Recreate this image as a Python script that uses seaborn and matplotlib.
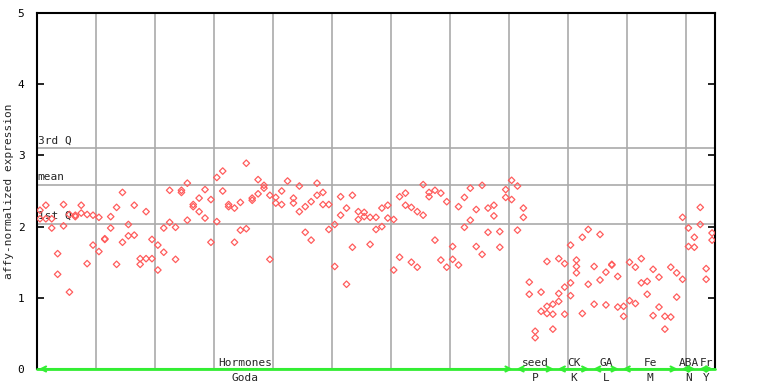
import numpy as np
import pandas as pd
import matplotlib
matplotlib.use("Agg")
import matplotlib.pyplot as plt
import seaborn as sns

# expression per sample (two replicates, a few with a third)
expr_1 = [2.23, 2.30, 1.98, 1.62, 2.31, 2.17, 2.16, 2.30, 2.17, 2.16,
          2.13, 1.82, 2.14, 2.27, 2.48, 2.03, 2.30, 1.55, 2.21, 1.82,
          1.74, 1.98, 2.51, 1.99, 2.51, 2.61, 2.31, 2.40, 2.52, 2.38,
          2.69, 2.78, 2.31, 2.26, 2.34, 2.89, 2.40, 2.66, 2.58, 2.44,
          2.41, 2.50, 2.64, 2.40, 2.57, 2.28, 2.35, 2.61, 2.48, 2.31,
          2.03, 2.42, 2.26, 2.44, 2.21, 2.20, 2.13, 2.13, 2.26, 2.30,
          2.10, 2.42, 2.47, 2.27, 2.21, 2.59, 2.48, 2.51, 2.47, 2.35,
          1.72, 2.28, 2.41, 2.54, 2.24, 2.58, 2.26, 2.30, 1.93, 2.52,
          2.65, 2.57, 2.26, 1.22, 0.53, 1.08, 1.51, 0.91, 1.55, 1.48,
          1.74, 1.53, 1.85, 1.96, 1.44, 1.89, 1.36, 1.46, 1.30, 0.88,
          1.50, 1.43, 1.55, 1.23, 1.40, 1.29, 0.74, 1.43, 1.35, 2.13,
          1.98, 1.85, 2.27, 1.41, 1.91]
expr_2 = [2.11, 2.11, 2.11, 1.33, 2.01, 1.08, 2.14, 2.19, 1.48, 1.74,
          1.65, 1.83, 1.98, 1.47, 1.78, 1.87, 1.88, 1.47, 1.55, 1.55,
          1.39, 1.64, 2.06, 1.54, 2.48, 2.09, 2.28, 2.21, 2.12, 1.78,
          2.07, 2.50, 2.28, 1.78, 1.95, 1.97, 2.37, 2.46, 2.54, 1.54,
          2.33, 2.31, np.nan, 2.33, 2.21, 1.92, 1.81, 2.44, 2.31, 1.96,
          1.44, 2.16, 1.19, 1.71, 2.10, 2.14, 1.75, 1.96, 2.00, 2.12,
          1.39, 1.57, 2.30, 1.50, 1.43, 2.16, 2.42, 1.81, 1.53, 1.43,
          1.54, 1.46, 1.99, 2.09, 1.72, 1.61, 1.92, 2.15, 1.71, 2.41,
          2.38, 1.95, 2.13, 1.05, 0.44, 0.81, 0.88, 0.77, 1.06, 1.15,
          1.21, 1.44, 0.78, 1.19, 0.91, 1.25, 0.90, 1.47, 0.87, 0.74,
          0.96, 0.92, 1.21, 1.05, 0.75, 0.87, 0.56, 0.73, 1.01, 1.26,
          1.72, 1.71, 2.03, 1.26, 1.81]
extra_samples = [86, 87, 88, 89, 90, 91]
extra_expr = [0.78, 0.56, 0.95, 0.77, 1.03, 1.35]

# summary lines
q3_value = 3.10
mean_value = 2.58
q1_value = 2.04

# experiment groups: top label, bottom label, first sample, last sample
group_top = ["Hormones", "seed", "CK", "GA", "Fe", "ABA", "Fr"]
group_bottom = ["Goda", "P", "K", "L", "M", "N", "Y"]
group_start = [0, 81, 88, 94, 99, 109, 112]
group_end = [81, 88, 94, 99, 109, 112, 115]

n = len(expr_1)
idx = np.arange(n)
df = pd.concat([
    pd.DataFrame({"sample": idx + 0.5, "expr": expr_1}),
    pd.DataFrame({"sample": idx + 0.5, "expr": expr_2}),
    pd.DataFrame({"sample": np.array(extra_samples) + 0.5, "expr": extra_expr}),
]).dropna()

sns.set_style("white")
plt.rcParams['font.family'] = ['DejaVu Sans Mono']

fig = plt.figure(figsize=(7.68, 3.84), dpi=100)
ax = fig.add_axes([37 / 768, 15 / 384, 678 / 768, 356 / 384])

grid_c = "#aaaaaa"
for gx in range(10, n, 10):
    ax.axvline(gx, color=grid_c, lw=1.2, zorder=1)
for val, lab in [(q3_value, "3rd Q"), (mean_value, "mean"), (q1_value, "1st Q")]:
    ax.axhline(val, color=grid_c, lw=1.2, zorder=1)
    ax.text(0.1, val + 0.04, lab, fontsize=8, ha="left", va="bottom", zorder=2)

sns.scatterplot(data=df, x="sample", y="expr", marker="D", s=11,
                facecolors="none", edgecolor="#ff5c5c", linewidth=0.9,
                ax=ax, zorder=3, legend=False)

ax.set_xlim(0, n)
ax.set_ylim(0, 5)
ax.set_xticks([])
ax.set_yticks([0, 1, 2, 3, 4, 5])
ax.tick_params(axis="y", direction="in", length=5, width=1.2, labelsize=8,
               pad=9, right=True, left=True, colors="black")
ax.set_xlabel("")
ax.set_ylabel("affy-normalized expression", fontsize=8, labelpad=3)
for side in ["left", "right", "top"]:
    ax.spines[side].set_color("black")
    ax.spines[side].set_linewidth(1.5)
ax.spines["bottom"].set_visible(False)

# group arrows and labels along the baseline
green = "#33ee33"
ax.plot([0, n], [0, 0], color=green, lw=2, clip_on=False, zorder=4)
for top, bot, s, e in zip(group_top, group_bottom, group_start, group_end):
    ax.annotate("", xy=(s + 0.3, 0), xytext=(e - 0.3, 0),
                arrowprops=dict(arrowstyle="<->", color=green, lw=1.5,
                                mutation_scale=9, shrinkA=0, shrinkB=0),
                annotation_clip=False, zorder=5)
    cx = 35.3 if top == "Hormones" else (s + e) / 2
    ax.text(cx, 0.02, top, fontsize=8, ha="center", va="bottom")
    ax.text(cx, -0.06, bot, fontsize=8, ha="center", va="top")

fig.savefig("out.png", dpi=100)
